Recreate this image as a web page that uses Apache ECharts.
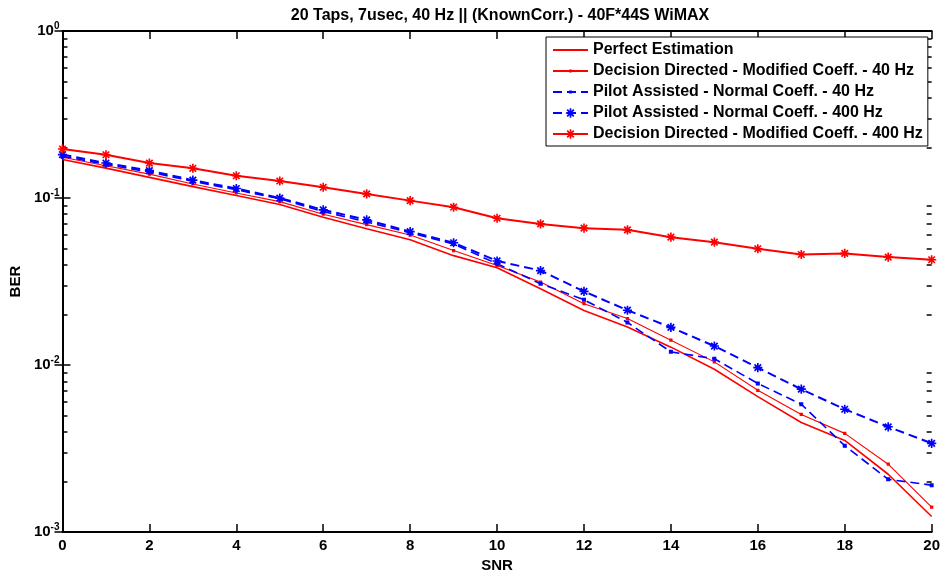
<!DOCTYPE html>
<html>
<head>
<meta charset="utf-8">
<script src="https://cdn.jsdelivr.net/npm/echarts@6/dist/echarts.min.js"></script>
<style>
html,body{margin:0;padding:0;background:#fff;}
#chart{width:943px;height:578px;}
</style>
</head>
<body>
<div id="chart"></div>
<script>
const snr = [0,1,2,3,4,5,6,7,8,9,10,11,12,13,14,15,16,17,18,19,20];
const perfect = [0.170,0.151,0.133,0.117,0.1035,0.0914,0.0767,0.0654,0.0562,0.0452,0.0382,0.0286,0.0212,0.0169,0.0128,0.00944,0.00647,0.00453,0.00354,0.00222,0.00124];
const dd40 = [0.1753,0.156,0.139,0.1214,0.1073,0.0952,0.080,0.0693,0.060,0.0485,0.0395,0.0314,0.0233,0.019,0.0141,0.01045,0.00706,0.00506,0.0039,0.00255,0.00141];
const pa40 = [0.178,0.159,0.143,0.126,0.112,0.099,0.083,0.072,0.062,0.053,0.0404,0.0307,0.0246,0.018,0.0120,0.0109,0.00776,0.00583,0.00329,0.00207,0.00191];
const pa400 = [0.182,0.162,0.146,0.128,0.114,0.100,0.085,0.074,0.063,0.054,0.042,0.0368,0.0276,0.0213,0.0168,0.0130,0.00966,0.00717,0.00544,0.00427,0.0034];
const dd400 = [0.1965,0.1816,0.162,0.1507,0.136,0.1265,0.116,0.1058,0.0965,0.0881,0.0757,0.070,0.066,0.0645,0.0583,0.0544,0.0497,0.0459,0.0466,0.0443,0.0427];
const seriesNames = [
  'Perfect Estimation',
  'Decision Directed - Modified Coeff. - 40 Hz',
  'Pilot Assisted - Normal Coeff. - 40 Hz',
  'Pilot Assisted - Normal Coeff. - 400 Hz',
  'Decision Directed - Modified Coeff. - 400 Hz'
];
const xTicks = [0,2,4,6,8,10,12,14,16,18,20];
const yDecades = [0.001,0.01,0.1,1];
const yMinor = [];
[0.001,0.01,0.1].forEach(d => { for (let k = 2; k <= 9; k++) yMinor.push(+(d*k).toPrecision(3)); });

// marker shapes (degenerate corner points pad the bounding box so the legend icons stay small)
const PAD = 'M-6,-6 L-6,-6 Z M6,6 L6,6 Z ';
const starSym = 'path://' + PAD + 'M-0.9,-5 L0.9,-5 L0.9,5 L-0.9,5 Z M-5,-0.9 L5,-0.9 L5,0.9 L-5,0.9 Z M-4.2,-2.9 L-2.9,-4.2 L4.2,2.9 L2.9,4.2 Z M-4.2,2.9 L2.9,-4.2 L4.2,-2.9 L-2.9,4.2 Z';
const dotSym = 'path://' + PAD + 'M-1.5,-1.5 L1.5,-1.5 L1.5,1.5 L-1.5,1.5 Z';
const noSym = 'path://M-6,-6 L-6,-6 Z M6,6 L6,6 Z';
const FONT = 'Liberation Sans, Arial, sans-serif';

function pairs(ys){ return snr.map((x,i)=>[x, ys[i]]); }

const chart = echarts.init(document.getElementById('chart'), null, {renderer:'canvas'});
const axisLineStyle = {color:'#000', width:2};
const tickStyle = {color:'#000', width:1.5};
const option = {
  backgroundColor:'#fff',
  animation:false,
  title:{
    text:'20 Taps, 7usec, 40 Hz || (KnownCorr.) - 40F*44S WiMAX',
    left:495, top:3, textAlign:'center',
    textStyle:{fontFamily:FONT, fontWeight:'bold', fontSize:16, color:'#000'}
  },
  legend:{
    orient:'vertical', left:546, top:37,
    backgroundColor:'#fff', borderColor:'#000', borderWidth:1,
    padding:[5,5,4,6], itemWidth:35, itemHeight:14, itemGap:5,
    textStyle:{fontFamily:FONT, fontWeight:'bold', fontSize:16, color:'#000'},
    data:seriesNames
  },
  grid:{left:62, right:11, top:31, bottom:45, containLabel:false},
  xAxis:[{
    type:'value', min:0, max:20, interval:2, position:'bottom',
    name:'SNR', nameLocation:'middle', nameGap:23,
    nameTextStyle:{fontFamily:FONT, fontWeight:'bold', fontSize:15, color:'#000'},
    axisLine:{show:true, lineStyle:axisLineStyle},
    axisTick:{show:true, inside:true, length:8, lineStyle:tickStyle},
    axisLabel:{fontFamily:FONT, fontWeight:'bold', fontSize:15, color:'#000', margin:6,
      customValues:xTicks},
    splitLine:{show:false}
  },{
    type:'value', min:0, max:20, interval:2, position:'top',
    axisLine:{show:true, lineStyle:axisLineStyle},
    axisTick:{show:true, inside:true, length:8, lineStyle:tickStyle},
    axisLabel:{show:false}, splitLine:{show:false}
  }],
  yAxis:[{
    type:'log', min:0.001, max:1, logBase:10, position:'left',
    name:'BER', nameLocation:'middle', nameGap:38, nameRotate:90,
    nameTextStyle:{fontFamily:FONT, fontWeight:'bold', fontSize:15, color:'#000'},
    axisLine:{show:true, lineStyle:axisLineStyle},
    axisTick:{show:true, inside:true, length:8, lineStyle:tickStyle, customValues:yDecades},
    axisLabel:{margin:3, customValues:yDecades,
      formatter:function(v){ const e = Math.round(Math.log10(v)); return '{b|10}{s|' + e + '}'; },
      rich:{
        b:{fontFamily:FONT, fontWeight:'bold', fontSize:15, color:'#000'},
        s:{fontFamily:FONT, fontWeight:'bold', fontSize:10, color:'#000', verticalAlign:'bottom', padding:[0,0,10,0]}
      }},
    splitLine:{show:false}
  },{
    type:'log', min:0.001, max:1, logBase:10, position:'right',
    axisLine:{show:true, lineStyle:axisLineStyle},
    axisTick:{show:true, inside:true, length:8, lineStyle:tickStyle, customValues:yDecades},
    axisLabel:{show:false}, splitLine:{show:false}
  },{
    type:'log', min:0.001, max:1, logBase:10, position:'left',
    axisLine:{show:false},
    axisTick:{show:true, inside:true, length:5, lineStyle:tickStyle, customValues:yMinor},
    axisLabel:{show:false}, splitLine:{show:false}
  },{
    type:'log', min:0.001, max:1, logBase:10, position:'right',
    axisLine:{show:false},
    axisTick:{show:true, inside:true, length:5, lineStyle:tickStyle, customValues:yMinor},
    axisLabel:{show:false}, splitLine:{show:false}
  }],
  series:[
    {name:seriesNames[0], type:'line', data:pairs(perfect), showSymbol:false, symbol:noSym,
      lineStyle:{color:'#ff0000', width:1.6}, itemStyle:{color:'#ff0000', borderWidth:0}, z:3},
    {name:seriesNames[1], type:'line', data:pairs(dd40), symbol:dotSym, symbolSize:13,
      lineStyle:{color:'#ff0000', width:1.1}, itemStyle:{color:'#ff0000', borderWidth:0}, z:3},
    {name:seriesNames[2], type:'line', data:pairs(pa40), symbol:dotSym, symbolSize:16,
      lineStyle:{color:'#0000ff', width:1.6, type:[9,5]}, itemStyle:{color:'#0000ff', borderWidth:0}, z:4},
    {name:seriesNames[3], type:'line', data:pairs(pa400), symbol:starSym, symbolSize:11,
      lineStyle:{color:'#0000ff', width:2, type:[9,5]}, itemStyle:{color:'#0000ff', borderWidth:0}, z:4},
    {name:seriesNames[4], type:'line', data:pairs(dd400), symbol:starSym, symbolSize:11,
      lineStyle:{color:'#ff0000', width:2}, itemStyle:{color:'#ff0000', borderWidth:0}, z:5}
  ]
};
chart.setOption(option);
</script>
</body>
</html>
